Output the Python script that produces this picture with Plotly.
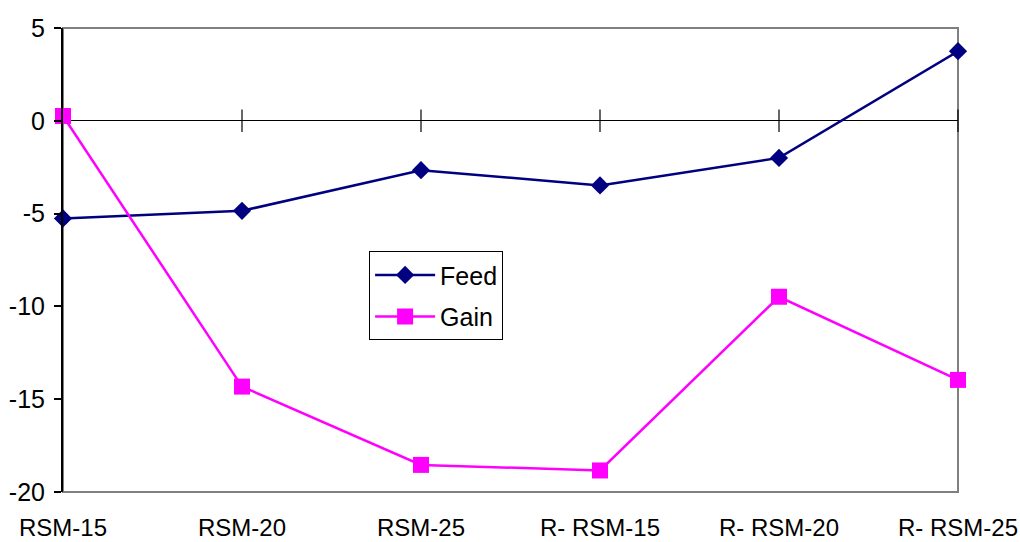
import plotly.graph_objects as go

categories = ["RSM-15", "RSM-20", "RSM-25", "R- RSM-15", "R- RSM-20", "R- RSM-25"]
feed = [-5.26, -4.85, -2.66, -3.48, -2.0, 3.75]
gain = [0.26, -14.32, -18.54, -18.84, -9.48, -13.96]
y_ticks = [5, 0, -5, -10, -15, -20]

xs = list(range(len(categories)))

FONT = "Liberation Sans, Arial, sans-serif"

fig = go.Figure()

# tick marks crossing the zero (category) axis
fig.add_trace(go.Scatter(
    x=xs[1:], y=[0] * (len(xs) - 1), mode="markers",
    marker=dict(symbol="line-ns-open", size=16, color="black",
                line=dict(color="black", width=1.2)),
    showlegend=False, hoverinfo="skip", cliponaxis=False,
))

fig.add_trace(go.Scatter(
    x=xs, y=feed, name="Feed", mode="lines+markers",
    line=dict(color="#000080", width=2.5),
    marker=dict(symbol="diamond", size=14, color="#000080"),
    cliponaxis=False, legendgroup="a",
))
fig.add_trace(go.Scatter(
    x=xs, y=gain, name="Gain", mode="lines+markers",
    line=dict(color="#FF00FF", width=2.5),
    marker=dict(symbol="square", size=16, color="#FF00FF"),
    cliponaxis=False, legendgroup="b",
))

fig.add_shape(type="rect", xref="paper", yref="paper", x0=0, x1=1, y0=0, y1=1,
              line=dict(color="#808080", width=2), layer="below")

fig.update_layout(
    width=1020, height=542,
    margin=dict(l=63, r=62, t=28, b=50, autoexpand=False),
    paper_bgcolor="white", plot_bgcolor="white",
    font=dict(family=FONT, size=25, color="black"),
    showlegend=True,
    legend=dict(
        x=0.342, y=0.519, xanchor="left", yanchor="top",
        bgcolor="white", bordercolor="black", borderwidth=1,
        font=dict(family=FONT, size=25, color="black"),
        traceorder="grouped", tracegroupgap=6, itemwidth=60,
    ),
    xaxis=dict(
        range=[0, len(categories) - 1], tickvals=xs, ticktext=categories,
        showgrid=False, zeroline=False, showline=False,
        ticks="", ticklabelstandoff=19, automargin=False,
        ticklabeloverflow="allow",
        tickfont=dict(family=FONT, size=24, color="black"),
        fixedrange=True,
    ),
    yaxis=dict(
        range=[-20, 5], tickvals=y_ticks, ticktext=[str(v) for v in y_ticks],
        showgrid=False, zeroline=True, zerolinecolor="black", zerolinewidth=1.2,
        showline=True, linecolor="black", linewidth=2,
        ticks="outside", ticklen=7, tickcolor="black", tickwidth=1.5,
        ticklabelstandoff=4, automargin=False,
        tickfont=dict(family=FONT, size=25, color="black"),
        fixedrange=True,
    ),
)

fig.write_html(
    "out.html",
    config={"displayModeBar": False},
    post_script="document.body.style.margin='0';document.body.style.overflow='hidden';",
)
